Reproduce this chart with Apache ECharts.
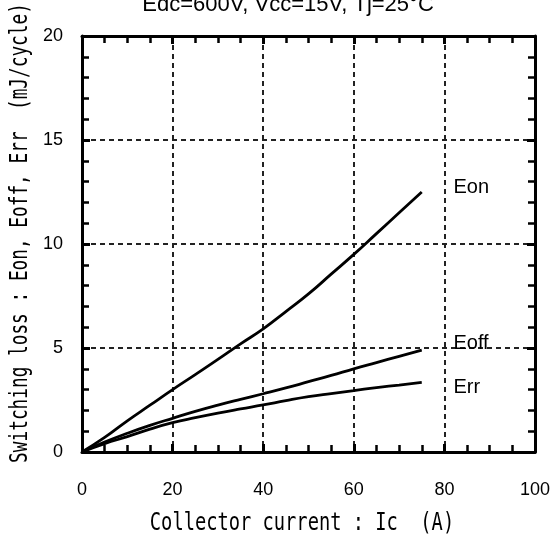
<!DOCTYPE html>
<html><head><meta charset="utf-8">
<script src="https://cdn.jsdelivr.net/npm/echarts@6/dist/echarts.min.js"></script>
<style>html,body{margin:0;padding:0;background:#fff}#c{width:554px;height:540px}</style>
</head><body><div id="c"></div>
<script>
// ---- data ----
const current = [0,5,10,15,20,25,30,35,40,45,50,55,60,65,70,75];
const eon  = [0,0.70,1.50,2.25,3.00,3.72,4.45,5.20,5.92,6.75,7.60,8.55,9.50,10.50,11.50,12.50];
const eoff = [0,0.48,0.90,1.28,1.62,1.95,2.25,2.53,2.80,3.08,3.38,3.68,4.00,4.30,4.60,4.90];
const err  = [0,0.40,0.74,1.10,1.41,1.65,1.87,2.07,2.26,2.47,2.66,2.81,2.95,3.10,3.22,3.35];
const seriesNames = ['Eon','Eoff','Err'];
const labelAt = [[82,12.74],[82,5.24],[82,3.08]]; // data coords of curve labels
const titleText = 'Edc=600V, Vcc=15V, Tj=25°C';
const xTitle = 'Collector current : Ic  (A)';
const yTitle = 'Switching loss : Eon, Eoff, Err  (mJ/cycle)';

const chart = echarts.init(document.getElementById('c'), null, {renderer:'canvas'});
const gridLine = {show:true, lineStyle:{color:'#222', width:2, type:[5,4]}};
function xAx(pos, labels){
  return {type:'value', position:pos, min:0, max:100, interval:20,
    axisLine:{show:true, onZero:false, lineStyle:{color:'#000', width:3}},
    axisTick:{show:true, inside:true, length:8, lineStyle:{color:'#000', width:3}},
    minorTick:{show:true, splitNumber:4, length:7, lineStyle:{color:'#000', width:2.5}},
    axisLabel:{show:labels, margin:29, color:'#000', fontFamily:'Liberation Sans', fontSize:18},
    splitLine: labels ? gridLine : {show:false}};
}
function yAx(pos, labels){
  return {type:'value', position:pos, min:0, max:20, interval:5,
    axisLine:{show:true, onZero:false, lineStyle:{color:'#000', width:3}},
    axisTick:{show:true, inside:true, length:8, lineStyle:{color:'#000', width:3}},
    minorTick:{show:true, splitNumber:5, length:7, lineStyle:{color:'#000', width:2.5}},
    axisLabel:{show:labels, margin:19, color:'#000', fontFamily:'Liberation Sans', fontSize:18},
    splitLine: labels ? gridLine : {show:false}};
}
const datasets = [eon, eoff, err];
chart.setOption({
  animation:false,
  backgroundColor:'#fff',
  grid:{left:82, right:19, top:36, bottom:88},
  xAxis:[xAx('bottom', true), xAx('top', false)],
  yAxis:[yAx('left', true), yAx('right', false)],
  series: datasets.map((d,i)=>({
    name:seriesNames[i], type:'line', smooth:true, showSymbol:false, symbol:'none',
    lineStyle:{color:'#000', width:2.8},
    data: current.map((x,j)=>[x, d[j]])
  }))
});
const labels = labelAt.map((p,i)=>{
  const px = chart.convertToPixel({gridIndex:0}, p);
  return {type:'text', x:px[0], y:px[1], style:{text:seriesNames[i], fill:'#000',
    font:'20px "Liberation Sans"', textAlign:'left', textVerticalAlign:'middle'}};
});
chart.setOption({graphic:[
  {type:'text', x:288, y:16, style:{text:titleText, fill:'#000', font:'22px "Liberation Sans"', textAlign:'center', textVerticalAlign:'bottom'}},
  {type:'text', x:302, y:524, scaleX:0.78, style:{text:xTitle, fill:'#000', font:'24px "DejaVu Sans Mono"', textAlign:'center', textVerticalAlign:'middle'}},
  {type:'text', x:21, y:233, rotation:Math.PI/2, scaleX:0.74, style:{text:yTitle, fill:'#000', font:'24px "DejaVu Sans Mono"', textAlign:'center', textVerticalAlign:'middle'}},
  ...labels
]});
</script></body></html>
